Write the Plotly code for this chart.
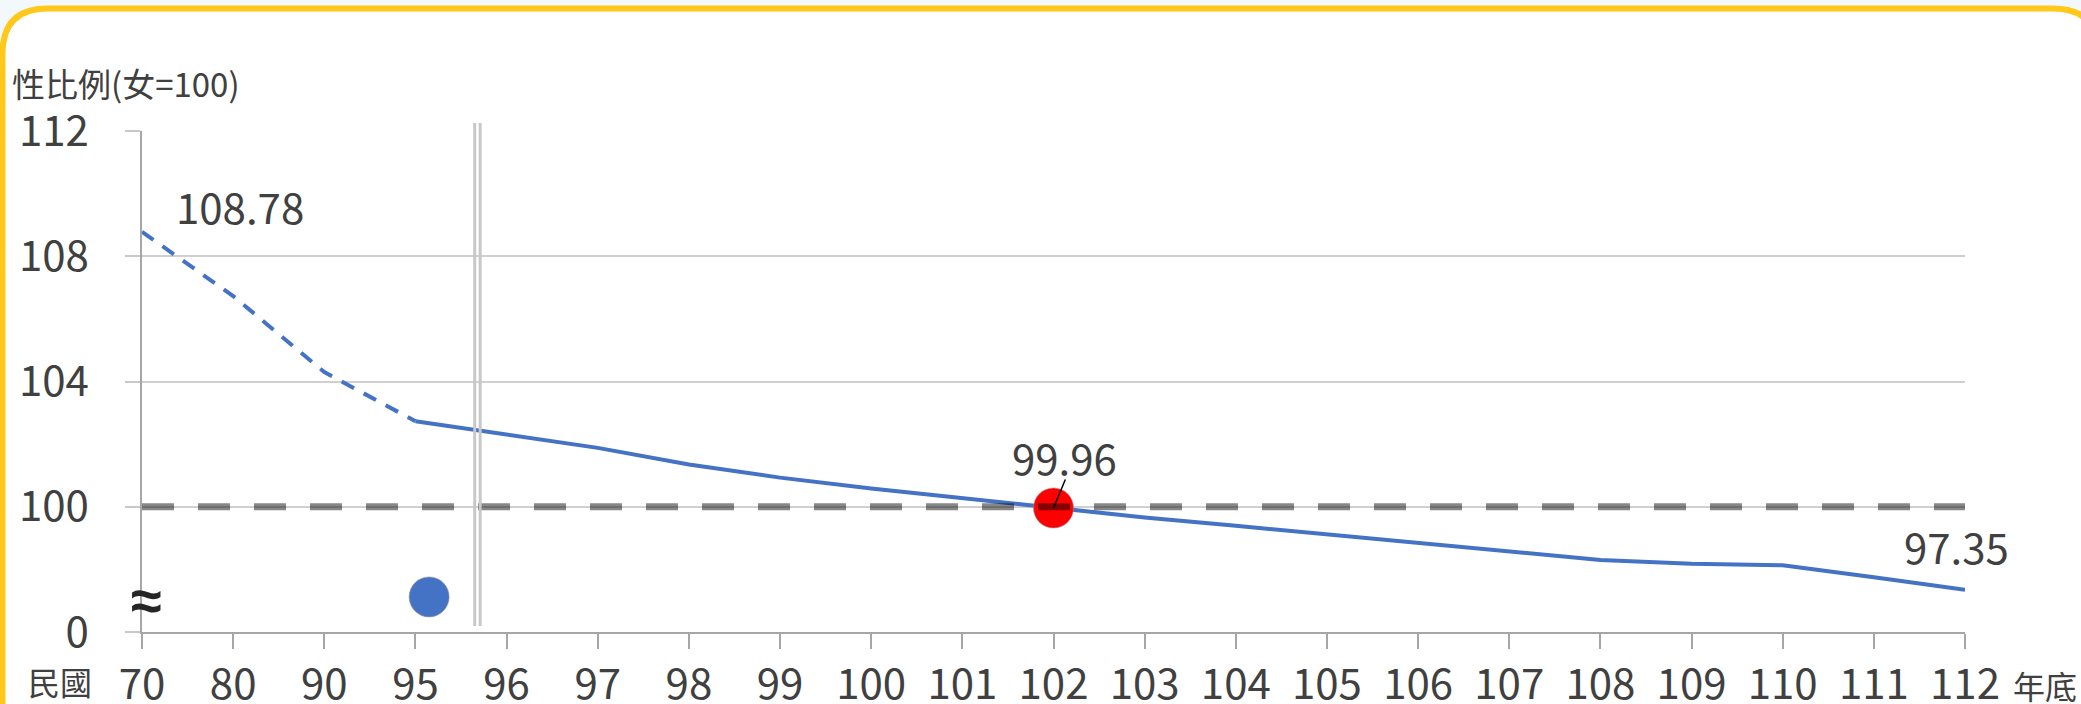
import plotly.graph_objects as go

# ---- data ----
categories = ["70", "80", "90", "95", "96", "97", "98", "99", "100", "101", "102",
              "103", "104", "105", "106", "107", "108", "109", "110", "111", "112"]
sex_ratio = [108.78, 106.73, 104.30, 102.73, 102.29, 101.88, 101.35, 100.93, 100.58,
             100.27, 99.96, 99.66, 99.39, 99.12, 98.84, 98.56, 98.30, 98.18, 98.13,
             97.75, 97.35]
# broken y axis: the "0" tick sits one band (4 units) below 100
y_tickvals = [96, 100, 104, 108, 112]
y_ticktext = ["0", "100", "104", "108", "112"]
reference_level = 100
highlight_cat = "102"

idx = list(range(len(categories)))
hi = categories.index(highlight_cat)

FONT = "Noto Sans CJK TC, Noto Sans, sans-serif"
TXT = "#404040"
BLUE = "#4472C4"

W, H = 2081, 704
ML, MR, MT, MB = 142, 116, 131, 72
PW, PH = W - ML - MR, H - MT - MB


def px(xp):
    return (xp - ML) / PW


def py(yp):
    return (H - MB - yp) / PH


fig = go.Figure()

# dashed early segment (70 -> 95)
fig.add_trace(go.Scatter(x=idx[:4], y=sex_ratio[:4], mode="lines",
                         line=dict(color=BLUE, width=4, dash="14px,11px"),
                         hoverinfo="skip"))
# solid segment (95 -> 112)
fig.add_trace(go.Scatter(x=idx[3:], y=sex_ratio[3:], mode="lines",
                         line=dict(color=BLUE, width=4), hoverinfo="skip"))
# highlighted point
fig.add_trace(go.Scatter(x=[idx[hi]], y=[sex_ratio[hi]], mode="markers",
                         marker=dict(color="#FF0000", size=40,
                                     line=dict(color="rgba(150,150,150,0.6)", width=1)),
                         cliponaxis=False, hoverinfo="skip"))
# decorative blue dot near the axis break
fig.add_trace(go.Scatter(x=[3.15], y=[97.12], mode="markers",
                         marker=dict(color=BLUE, size=40,
                                     line=dict(color="rgba(150,150,150,0.6)", width=1)),
                         cliponaxis=False, hoverinfo="skip"))
# reference line at 100 (semi-transparent, drawn on top)
fig.add_trace(go.Scatter(x=[idx[0], idx[-1]], y=[reference_level] * 2, mode="lines",
                         line=dict(color="rgba(0,0,0,0.47)", width=7, dash="32px,24px"),
                         hoverinfo="skip"))

shapes = []
# rounded yellow frame
x0, y0, x1, y1 = 2.5, 8.5, 2098, 740
r = 45
rx, ry = r / PW, r / PH
X0, X1, Y0, Y1 = px(x0), px(x1), py(y0), py(y1)
path = (f"M {X0},{Y1} L {X0},{Y0 - ry} Q {X0},{Y0} {X0 + rx},{Y0} "
        f"L {X1 - rx},{Y0} Q {X1},{Y0} {X1},{Y0 - ry} L {X1},{Y1} Z")
shapes.append(dict(type="path", path=path, xref="paper", yref="paper",
                   fillcolor="white", line=dict(color="#FFC81A", width=6), layer="below"))
# axis-break double vertical lines
for xv in (3.65, 3.71):
    shapes.append(dict(type="line", xref="x", yref="paper", x0=xv, x1=xv,
                       y0=py(626), y1=py(123), line=dict(color="#C8C8C8", width=3),
                       layer="above"))
# leader line for highlighted label
shapes.append(dict(type="line", xref="x", yref="y", x0=idx[hi], y0=sex_ratio[hi],
                   x1=idx[hi] + 0.13, y1=100.87, line=dict(color="black", width=1.5),
                   layer="above"))

annotations = [
    dict(text="性比例(女=100)", xref="paper", yref="paper", x=px(10), y=py(83),
         xanchor="left", yanchor="middle", showarrow=False,
         font=dict(size=33, color=TXT, family=FONT)),
    dict(text="民國", xref="paper", yref="paper", x=px(60), y=py(681),
         xanchor="center", yanchor="middle", showarrow=False,
         font=dict(size=32, color=TXT, family=FONT)),
    dict(text="年底", xref="paper", yref="paper", x=px(2045), y=py(685),
         xanchor="center", yanchor="middle", showarrow=False,
         font=dict(size=32, color=TXT, family=FONT)),
    dict(text="≈", xref="x", yref="y", x=0.05, y=97.1, xanchor="center",
         yanchor="middle", showarrow=False,
         font=dict(size=56, color="#262626", family="Noto Sans, sans-serif",
                   weight="bold")),
    dict(text=f"{sex_ratio[0]:.2f}", xref="x", yref="y", x=1.07, y=109.62,
         xanchor="center", yanchor="middle", showarrow=False,
         font=dict(size=42, color=TXT, family=FONT)),
    dict(text=f"{sex_ratio[hi]:.2f}", xref="x", yref="y", x=idx[hi] + 0.12, y=101.6,
         xanchor="center", yanchor="middle", showarrow=False,
         font=dict(size=42, color=TXT, family=FONT)),
    dict(text=f"{sex_ratio[-1]:.2f}", xref="x", yref="y", x=19.91, y=98.76,
         xanchor="center", yanchor="middle", showarrow=False,
         font=dict(size=42, color=TXT, family=FONT)),
]

fig.update_layout(
    width=W, height=H,
    margin=dict(l=ML, r=MR, t=MT, b=MB, pad=0, autoexpand=False),
    paper_bgcolor="#F3F8FC", plot_bgcolor="rgba(0,0,0,0)",
    showlegend=False, shapes=shapes, annotations=annotations,
    font=dict(family=FONT, color=TXT),
)
fig.update_xaxes(range=[0, len(categories) - 1], tickmode="array", tickvals=idx,
                 ticktext=categories, showgrid=False, zeroline=False, automargin=False,
                 showline=True, linecolor="#A6A6A6", linewidth=1.5,
                 ticks="outside", ticklen=15, tickcolor="#A6A6A6", tickwidth=1.5,
                 tickfont=dict(size=42, color=TXT, family=FONT), ticklabelstandoff=0)
fig.update_yaxes(range=[96, 112], tickmode="array", tickvals=y_tickvals,
                 ticktext=y_ticktext, showgrid=True, gridcolor="#D0D0D0", gridwidth=1.5,
                 zeroline=False, showline=True, linecolor="#A6A6A6", linewidth=1.5,
                 automargin=False,
                 ticks="outside", ticklen=15, tickcolor="#C8C8C8", tickwidth=1.5,
                 tickfont=dict(size=42, color=TXT, family=FONT), ticklabelstandoff=28)

fig.write_html("out.html", config={"displayModeBar": False},
               post_script="document.body.style.margin='0';"
                           "document.body.style.overflow='hidden';")
